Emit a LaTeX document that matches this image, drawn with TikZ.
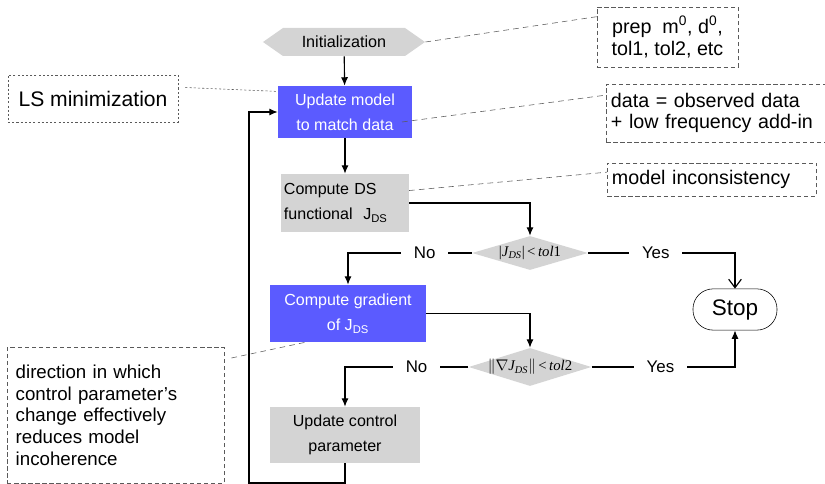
\documentclass[tikz,border=0pt]{standalone}
\usepackage{fontspec}
\setmainfont{Liberation Sans}
\newfontfamily\tms{Liberation Serif}
\usepackage{tikz}
\usetikzlibrary{arrows.meta, positioning, calc, shapes.geometric, shapes.symbols}

\definecolor{boxblue}{RGB}{91,91,255}
\definecolor{boxgray}{RGB}{212,212,212}
\definecolor{notegray}{RGB}{90,90,90}

\tikzset{
    flow/.style={draw=none, inner sep=2pt, font=\fontsize{11.4}{18}\selectfont},
    bluebox/.style={flow, fill=boxblue, text=white, align=center},
    graybox/.style={flow, fill=boxgray, align=center},
    test/.style={diamond, fill=boxgray, aspect=3.4, inner sep=0pt, font=\tms\fontsize{10.5}{12}\selectfont},
    note/.style={draw=notegray, dash pattern=on 3pt off 2pt, thin, font=\fontsize{14}{15.5}\selectfont},
    link/.style={draw=notegray, dash pattern=on 4pt off 3pt, thin},
    arr/.style={-{Latex[length=6pt, width=5pt]}, thick},
    ans/.style={fill=white, inner xsep=9pt, font=\fontsize{12}{14}\selectfont}
}

\begin{document}
\begin{tikzpicture}[x=0.025cm, y=-0.025cm]
    \useasboundingbox (0,0) rectangle (825,484);

    % Flow chart
    \node[signal, signal to=west and east, signal pointer angle=70, fill=boxgray,
          minimum width=4.05cm, minimum height=0.7cm, inner sep=0pt,
          font=\fontsize{11.5}{13}\selectfont] (init) at (344,42) {Initialization};
    \node[bluebox, minimum width=3.35cm, minimum height=1.3cm] (upd) at (345,112)
        {Update model\\to match data};
    \node[graybox, align=left, text width=3.05cm, minimum height=1.45cm] (ds) at (345,203)
        {Compute DS\\functional\ \ J\textsubscript{DS}};
    \node[test, minimum width=2.9cm, minimum height=0.85cm] (tolA) at (530,253)
        {|\textit{J\textsubscript{DS}}|\,<\,\textit{tol}1};
    \node[bluebox, minimum width=3.9cm, minimum height=1.425cm] (grad) at (348,313.5)
        {Compute gradient\\of J\textsubscript{DS}};
    \node[test, inner xsep=-5pt, minimum width=3.0cm, minimum height=0.95cm] (tolB) at (530,367)
        {$\|$$\nabla$\textit{J\textsubscript{DS}}$\|$\,<\,\textit{tol}2};
    \node[graybox, minimum width=3.75cm, minimum height=1.4cm] (ctrl) at (345,435)
        {Update control\\parameter};
    \node[draw, rounded corners=0.5cm, minimum width=2.1cm, minimum height=1.03cm,
          font=\fontsize{16}{18}\selectfont] (stop) at (735,309.5) {Stop};

    % Notes
    \node[note, align=center, minimum width=3.525cm, minimum height=1.5cm] (prep) at (667.5,37)
        {prep\ \ m\textsuperscript{0}, d\textsuperscript{0},\\tol1, tol2, etc};
    \node[note, align=left, text width=5.4cm, minimum height=1.45cm, anchor=west] (data) at (606,113)
        {data = observed data\\+ low frequency add-in};
    \node[note, align=left, text width=5.0cm, minimum height=0.825cm] (incons) at (712,179.5)
        {model inconsistency};
    \node[note, dash pattern=on 1.5pt off 1.5pt, minimum width=4.25cm, minimum height=1.175cm,
          font=\fontsize{15}{17}\selectfont] (lsmin) at (93,98.5) {LS minimization};
    \node[note, align=left, text width=5.0cm, inner xsep=6pt, minimum height=3.4cm, anchor=north west,
          font=\fontsize{13.3}{15.6}\selectfont] (dir) at (7,347)
        {direction in which\\control parameter's\\change effectively\\reduces model\\incoherence};

    % Flow connectors
    \coordinate (loopA) at (249,483);
    \draw[arr] (init) -- (upd);
    \draw[arr] (upd) -- (ds);
    \draw[arr] (ds.east) -| (tolA.north);
    \draw[arr] (tolA.west) -| node[ans, pos=0.19] {No} (grad.north);
    \draw[-{Straight Barb[length=6pt, width=9pt]}, thick] (tolA.east) -| node[ans, pos=0.23] {Yes} (stop.north);
    \draw[arr] (grad.east) -| (tolB.north);
    \draw[arr] (tolB.west) -| node[ans, pos=0.21] {No} (ctrl.north);
    \draw[arr] (tolB.east) -| node[ans, pos=0.24] {Yes} (stop.south);
    \draw[arr] (ctrl.south) |- (loopA) |- (upd.west);

    % Note links
    \coordinate (updTxt) at (402,122);
    \draw[link] (init.east) -- (prep.164);
    \draw[link] (updTxt) -- (data.171);
    \draw[link] (ds.11) -- (incons.176);
    \draw[link, dash pattern=on 1.5pt off 1.5pt] ($(lsmin.east)+(7,-11)$) -- (upd.163);
    \draw[link] ($(dir.north east)+(7,11)$) -- (grad.214);
\end{tikzpicture}
\end{document}
